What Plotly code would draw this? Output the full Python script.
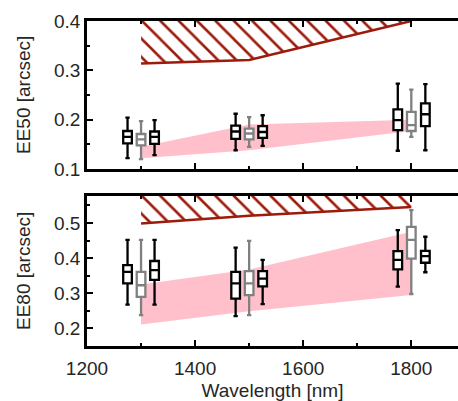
import plotly.graph_objects as go

# ---- data ----
wl_band = [1300, 1500, 1800]

# EE50 panel
ee50_req_lower = [0.314, 0.321, 0.400]
ee50_req_upper = [0.400, 0.400, 0.400]
ee50_band_low = [0.122, 0.138, 0.177]
ee50_band_high = [0.145, 0.190, 0.200]

# EE80 panel
ee80_req_lower = [0.499, 0.521, 0.546]
ee80_req_upper = [0.577, 0.577, 0.577]
ee80_band_low = [0.211, 0.249, 0.295]
ee80_band_high = [0.325, 0.368, 0.475]

box_x = [1275, 1300, 1325, 1475, 1500, 1525, 1775, 1800, 1826]
box_kind = ["black", "gray", "black", "black", "gray", "black", "black", "gray", "black"]

ee50_low = [0.122, 0.120, 0.128, 0.138, 0.145, 0.147, 0.137, 0.165, 0.138]
ee50_q1 = [0.152, 0.148, 0.151, 0.161, 0.160, 0.163, 0.179, 0.177, 0.187]
ee50_med = [0.165, 0.160, 0.165, 0.176, 0.172, 0.175, 0.199, 0.189, 0.211]
ee50_q3 = [0.177, 0.171, 0.176, 0.188, 0.182, 0.187, 0.221, 0.216, 0.233]
ee50_high = [0.204, 0.197, 0.199, 0.212, 0.205, 0.209, 0.273, 0.261, 0.272]

ee80_low = [0.268, 0.238, 0.268, 0.235, 0.238, 0.269, 0.319, 0.298, 0.360]
ee80_q1 = [0.328, 0.290, 0.338, 0.285, 0.295, 0.320, 0.368, 0.399, 0.387]
ee80_med = [0.361, 0.323, 0.366, 0.328, 0.328, 0.342, 0.395, 0.452, 0.406]
ee80_q3 = [0.380, 0.361, 0.392, 0.361, 0.363, 0.363, 0.420, 0.489, 0.421]
ee80_high = [0.452, 0.452, 0.452, 0.430, 0.449, 0.395, 0.480, 0.537, 0.461]

x_ticks = [1200, 1400, 1600, 1800]
x_minor = [1300, 1500, 1700]
ee50_ticks = [0.1, 0.2, 0.3, 0.4]
ee80_ticks = [0.2, 0.3, 0.4, 0.5]
ee50_range = [0.1, 0.4]
ee80_range = [0.15, 0.577]
x_range = [1200, 1886.4]

# ---- style ----
HATCH = "#9c1b0c"
PINK = "#ffc0cb"
COLORS = {"black": "#000000", "gray": "#808080"}
FONT = "Liberation Sans"
TXT = "#262626"

fig = go.Figure()


def add_panel(xa, ya, xb, yb, req_lo, req_hi, b_lo, b_hi, low, q1, med, q3, high):
    # hatched requirement region
    fig.add_trace(go.Scatter(
        x=wl_band + wl_band[::-1], y=req_lo + req_hi[::-1],
        mode="lines", fill="toself", line=dict(width=0),
        fillcolor="white",
        fillpattern=dict(shape="\\", fgcolor=HATCH, bgcolor="white", fgopacity=1,
                         size=13, solidity=0.2),
        hoverinfo="skip", showlegend=False, xaxis=xa, yaxis=ya))
    fig.add_trace(go.Scatter(
        x=wl_band, y=req_lo, mode="lines", line=dict(color=HATCH, width=2.5),
        hoverinfo="skip", showlegend=False, xaxis=xa, yaxis=ya))
    # pink band
    fig.add_trace(go.Scatter(
        x=wl_band, y=b_lo, mode="lines", line=dict(width=0),
        hoverinfo="skip", showlegend=False, xaxis=xa, yaxis=ya))
    fig.add_trace(go.Scatter(
        x=wl_band, y=b_hi, mode="lines", line=dict(width=0), fill="tonexty",
        fillcolor=PINK, hoverinfo="skip", showlegend=False, xaxis=xa, yaxis=ya))
    # boxes on overlaid axes so they sit above the fills
    for i, xv in enumerate(box_x):
        c = COLORS[box_kind[i]]
        fig.add_trace(go.Box(
            x=[xv], q1=[q1[i]], median=[med[i]], q3=[q3[i]],
            lowerfence=[low[i]], upperfence=[high[i]],
            width=16, whiskerwidth=0.5, fillcolor="white",
            line=dict(color=c, width=2.3), boxpoints=False,
            hoverinfo="skip", showlegend=False, xaxis=xb, yaxis=yb))


add_panel("x", "y", "x3", "y3", ee50_req_lower, ee50_req_upper, ee50_band_low, ee50_band_high,
          ee50_low, ee50_q1, ee50_med, ee50_q3, ee50_high)
add_panel("x2", "y2", "x4", "y4", ee80_req_lower, ee80_req_upper, ee80_band_low, ee80_band_high,
          ee80_low, ee80_q1, ee80_med, ee80_q3, ee80_high)

tickfont = dict(family=FONT, size=19, color=TXT)
xcommon = dict(
    range=x_range, tickvals=x_ticks, ticks="inside", ticklen=6, tickwidth=2,
    tickcolor="black", showline=True, linecolor="black", linewidth=2.5, mirror="ticks",
    showgrid=False, zeroline=False, domain=[0, 1],
    minor=dict(tickvals=x_minor, ticks="inside", ticklen=3, tickwidth=2, tickcolor="black"),
    tickfont=tickfont, ticklabelstandoff=3,
)
ycommon = dict(
    ticks="inside", ticklen=6, tickwidth=2, tickcolor="black",
    showline=True, linecolor="black", linewidth=2.5, mirror=False,
    showgrid=False, zeroline=False, tickfont=tickfont,
)

fig.update_layout(
    xaxis=dict(**xcommon, anchor="y", showticklabels=False),
    xaxis2=dict(**xcommon, anchor="y2", showticklabels=True,
                title=dict(text="Wavelength [nm]", font=tickfont, standoff=10)),
    yaxis=dict(**ycommon, anchor="x", range=ee50_range, tickvals=ee50_ticks,
               ticktext=["0.1", "0.2", "0.3", "0.4"],
               minor=dict(tickvals=[0.15, 0.25, 0.35], ticks="inside", ticklen=3, tickwidth=2, tickcolor="black"),
               domain=[0.5446, 1.0]),
    yaxis2=dict(**ycommon, anchor="x2", range=ee80_range, tickvals=ee80_ticks,
                ticktext=["0.2", "0.3", "0.4", "0.5"],
                minor=dict(tickvals=[0.25, 0.35, 0.45, 0.55], ticks="inside", ticklen=3, tickwidth=2, tickcolor="black"),
                domain=[0.0, 0.4615]),
    xaxis3=dict(overlaying="x", anchor="y3", range=x_range, visible=False),
    yaxis3=dict(overlaying="y", anchor="x3", range=ee50_range, visible=False),
    xaxis4=dict(overlaying="x2", anchor="y4", range=x_range, visible=False),
    yaxis4=dict(overlaying="y2", anchor="x4", range=ee80_range, visible=False),
    width=458, height=401,
    margin=dict(l=87, r=0, t=21, b=55),
    paper_bgcolor="white", plot_bgcolor="white",
    boxmode="overlay", showlegend=False,
    font=dict(family=FONT, size=19, color=TXT),
    annotations=[
        dict(text="EE50 [arcsec]", textangle=-90, xref="paper", yref="y domain",
             x=(23 - 87) / 371, y=0.5, xanchor="center", yanchor="middle",
             showarrow=False, font=tickfont),
        dict(text="EE80 [arcsec]", textangle=-90, xref="paper", yref="y2 domain",
             x=(23 - 87) / 371, y=0.5, xanchor="center", yanchor="middle",
             showarrow=False, font=tickfont),
    ],
)

fig.write_html("out.html")
